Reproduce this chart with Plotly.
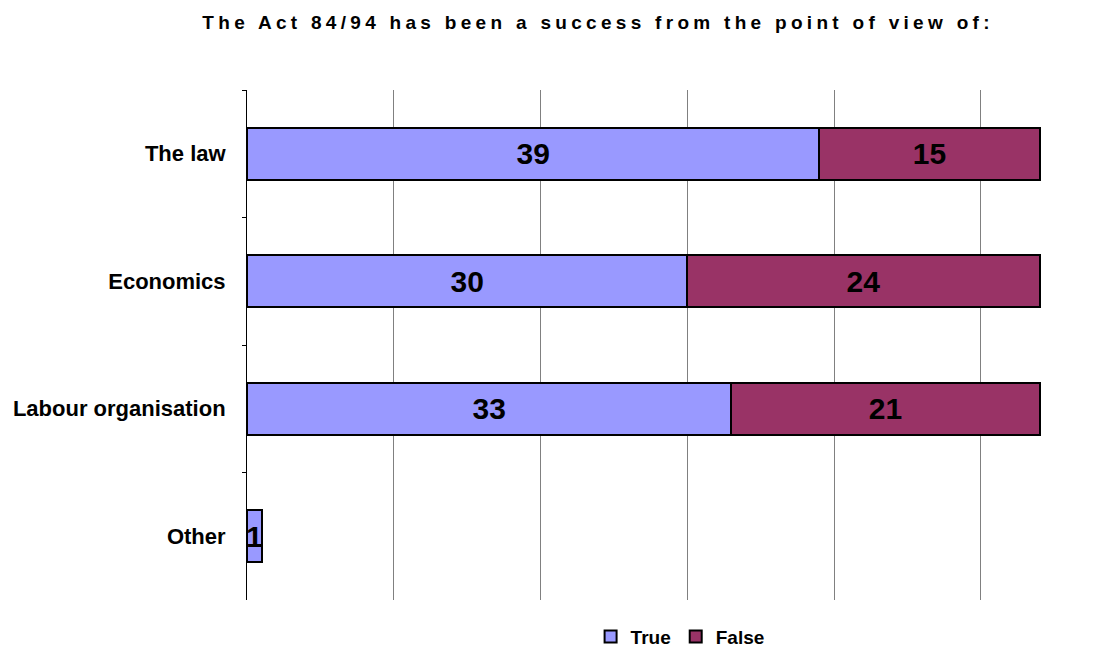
import plotly.graph_objects as go

categories = ["The law", "Economics", "Labour organisation", "Other"]
true_vals = [39, 30, 33, 1]
false_vals = [15, 24, 21, None]
title = "The Act 84/94 has been a success from the point of view of:"

FONT = "Liberation Sans, Arial, Helvetica, sans-serif"

fig = go.Figure()
fig.add_trace(go.Bar(
    y=categories, x=true_vals, name="True", orientation="h",
    marker=dict(color="#9999FF", line=dict(color="black", width=2)),
    text=[str(v) for v in true_vals], textposition="inside", insidetextanchor="middle",
    constraintext="none",
    textfont=dict(family=FONT, size=30, color="black", weight="bold"),
    width=0.41,
))
fig.add_trace(go.Bar(
    y=categories, x=false_vals, name="False", orientation="h",
    marker=dict(color="#993366", line=dict(color="black", width=2)),
    text=[str(v) if v is not None else "" for v in false_vals], textposition="inside",
    insidetextanchor="middle", constraintext="none",
    textfont=dict(family=FONT, size=30, color="black", weight="bold"),
    width=0.41,
))

fig.update_layout(
    barmode="stack",
    width=1120, height=648,
    margin=dict(l=247, r=68, t=90, b=48, autoexpand=False),
    plot_bgcolor="white", paper_bgcolor="white",
    title=dict(text='<span style="letter-spacing:4.3px">' + title + '</span>',
               x=0.534, xanchor="center", y=0.966, yanchor="middle",
               font=dict(family=FONT, size=19, color="black", weight="bold")),
    font=dict(family=FONT, color="black"),
    showlegend=True,
    legend=dict(orientation="h", x=0.538, xanchor="center", y=-0.072, yanchor="middle",
                font=dict(size=19, weight="bold"), itemwidth=30, traceorder="normal"),
)
fig.update_xaxes(range=[0, 54.85], dtick=10, showticklabels=False, showgrid=True,
                 gridcolor="#808080", gridwidth=1, zeroline=False, showline=False, ticks="")
fig.update_yaxes(categoryorder="array", categoryarray=categories, autorange="reversed",
                 showline=True, linecolor="black", linewidth=1, ticks="outside", ticklen=4,
                 tickcolor="black", tickson="boundaries", showgrid=False,
                 tickfont=dict(size=22, weight="bold"), ticklabelstandoff=16)

fig.write_html("out.html", post_script="document.body.style.margin='0';",
               config={"displayModeBar": False})
